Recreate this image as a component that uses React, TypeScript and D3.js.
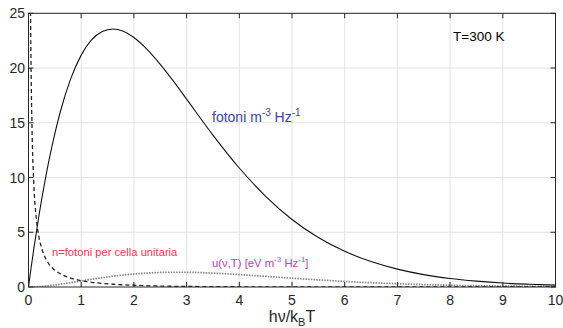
import React from "react";
import * as d3 from "d3";

const xTicks = [0, 1, 2, 3, 4, 5, 6, 7, 8, 9, 10];
const yTicks = [0, 5, 10, 15, 20, 25];

// photons m^-3 Hz^-1 and energy density u, sampled on grid A
const xA = [0, 0.05, 0.1, 0.2, 0.3, 0.4, 0.5, 0.6, 0.8, 1.0, 1.2, 1.4, 1.6, 1.8, 2.0, 2.25, 2.5, 2.75, 3, 3.5, 4, 4.5, 5, 5.5, 6, 6.5, 7, 7.5, 8, 8.5, 9, 9.5, 10];
const photons = [0, 1.78, 3.46, 6.58, 9.36, 11.84, 14.02, 15.94, 19.01, 21.18, 22.59, 23.33, 23.57, 23.36, 22.79, 21.71, 20.34, 18.8, 17.16, 13.88, 10.87, 8.28, 6.17, 4.52, 3.26, 2.32, 1.63, 1.13, 0.78, 0.54, 0.36, 0.25, 0.17];
const energy = [0, 0.002, 0.009, 0.034, 0.073, 0.124, 0.183, 0.25, 0.397, 0.553, 0.708, 0.853, 0.984, 1.097, 1.189, 1.275, 1.327, 1.349, 1.344, 1.268, 1.134, 0.973, 0.806, 0.649, 0.51, 0.393, 0.297, 0.222, 0.163, 0.119, 0.086, 0.061, 0.043];

// photons per unit cell, grid B
const xB = [0.03, 0.04, 0.05, 0.07, 0.1, 0.15, 0.2, 0.25, 0.3, 0.4, 0.5, 0.6, 0.8, 1.0, 1.2, 1.4, 1.6, 1.8, 2.0, 2.5, 3, 3.5, 4, 5, 6, 7, 8, 10];
const occupancy = [32.8, 24.5, 19.5, 13.79, 9.51, 6.18, 4.52, 3.52, 2.86, 2.03, 1.54, 1.22, 0.82, 0.58, 0.43, 0.33, 0.25, 0.2, 0.16, 0.089, 0.052, 0.031, 0.019, 0.0068, 0.0025, 0.0009, 0.0003, 0.00005];

const W = 563;
const H = 328;
const L = 28.5, R = 555.5, T = 13.3, B = 287;

export default function App() {
  const x = d3.scaleLinear().domain([0, 10]).range([L, R]);
  const y = d3.scaleLinear().domain([0, 25]).range([B, T]);
  const line = d3
    .line<[number, number]>()
    .x((d) => x(d[0]))
    .y((d) => y(d[1]))
    .curve(d3.curveMonotoneX);
  const pPath = line(xA.map((v, i) => [v, photons[i]]) as [number, number][]) || "";
  const uPath = line(xA.map((v, i) => [v, energy[i]]) as [number, number][]) || "";
  const nPath = line(xB.map((v, i) => [v, occupancy[i]]) as [number, number][]) || "";
  const font = "'Liberation Sans', Arial, sans-serif";
  const ax = "#262626";
  const tl = 5;
  return (
    <svg width={W} height={H} style={{ position: "absolute", left: 0, top: 0, background: "#fff" }} fontFamily={font}>
      <defs>
        <clipPath id="plot">
          <rect x={L} y={T} width={R - L} height={B - T} />
        </clipPath>
      </defs>
      <rect x={0} y={0} width={W} height={H} fill="#fff" />
      {/* grid */}
      {xTicks.slice(1, -1).map((t) => (
        <line key={"gx" + t} x1={x(t)} x2={x(t)} y1={T} y2={B} stroke="#e3e3e3" strokeWidth={1} />
      ))}
      {yTicks.slice(1, -1).map((t) => (
        <line key={"gy" + t} x1={L} x2={R} y1={y(t)} y2={y(t)} stroke="#e3e3e3" strokeWidth={1} />
      ))}
      {/* curves */}
      <g clipPath="url(#plot)" fill="none">
        <path d={uPath} stroke="#858585" strokeWidth={1.7} strokeDasharray="1.5 1.2" />
        <path d={nPath} stroke="#222" strokeWidth={1.3} strokeDasharray="4 3" />
        <path d={pPath} stroke="#111" strokeWidth={1.1} />
      </g>
      {/* box */}
      <rect x={L} y={T} width={R - L} height={B - T} fill="none" stroke={ax} strokeWidth={1} />
      {/* ticks */}
      {xTicks.map((t) => (
        <g key={"tx" + t}>
          <line x1={x(t)} x2={x(t)} y1={B} y2={B - tl} stroke={ax} />
          <line x1={x(t)} x2={x(t)} y1={T} y2={T + tl} stroke={ax} />
          <text x={x(t)} y={305} textAnchor="middle" fontSize={14} fill={ax}>
            {t}
          </text>
        </g>
      ))}
      {yTicks.map((t) => (
        <g key={"ty" + t}>
          <line x1={L} x2={L + tl} y1={y(t)} y2={y(t)} stroke={ax} />
          <line x1={R} x2={R - tl} y1={y(t)} y2={y(t)} stroke={ax} />
          <text x={25} y={y(t) + 5} textAnchor="end" fontSize={14} fill={ax}>
            {t}
          </text>
        </g>
      ))}
      {/* x label */}
      <text x={x(5)} y={322} textAnchor="middle" fontSize={16} fill={ax}>
        hν/k<tspan fontSize={11} dy={4}>B</tspan>
        <tspan dy={-4}>T</tspan>
      </text>
      {/* annotations */}
      <text x={453} y={41} fontSize={13.5} fill="#000">T=300 K</text>
      <text x={212} y={122} fontSize={14} fill="#3a46a0">
        fotoni m<tspan fontSize={10} dy={-6}>-3</tspan>
        <tspan dy={6}> Hz</tspan>
        <tspan fontSize={10} dy={-6}>-1</tspan>
      </text>
      <text x={52} y={256} fontSize={11.2} fill="#ff3355">n=fotoni per cella unitaria</text>
      <text x={212} y={267} fontSize={11.3} fill="#c040b8">
        u(ν,T) [eV m<tspan fontSize={8} dy={-5}>-3</tspan>
        <tspan dy={5}> Hz</tspan>
        <tspan fontSize={8} dy={-5}>-1</tspan>
        <tspan dy={5}>]</tspan>
      </text>
    </svg>
  );
}
